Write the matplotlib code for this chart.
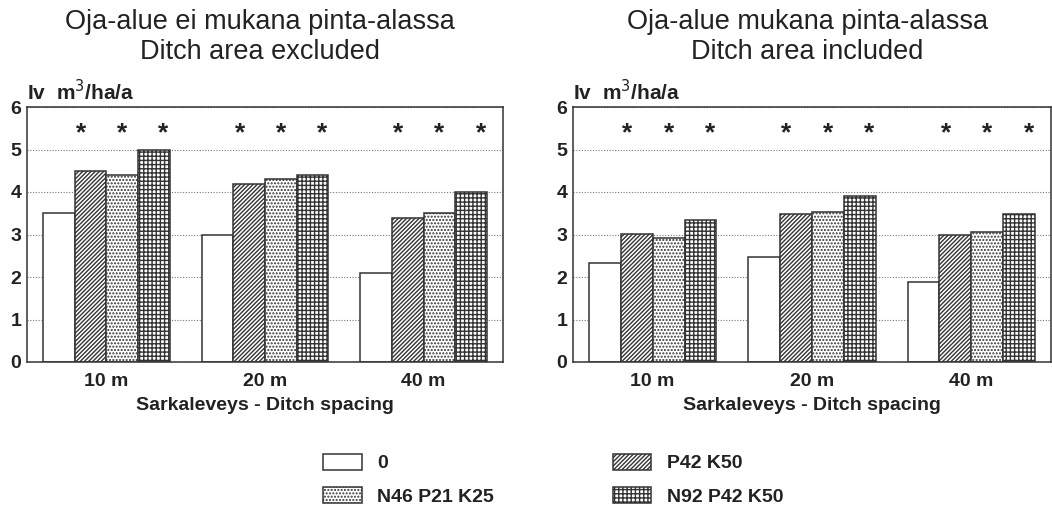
import numpy as np
import matplotlib
matplotlib.use("Agg")
import matplotlib.pyplot as plt
from matplotlib.patches import Patch

plt.rcParams['font.family'] = ['Liberation Sans', 'DejaVu Sans']
plt.rcParams['hatch.linewidth'] = 1.0
plt.rcParams['hatch.color'] = '#333333'

# data
groups = ['10 m', '20 m', '40 m']
series = ['0', 'P42 K50', 'N46 P21 K25', 'N92 P42 K50']
excluded = {
    '0':           [3.5, 3.0, 2.1],
    'P42 K50':     [4.5, 4.2, 3.4],
    'N46 P21 K25': [4.4, 4.3, 3.5],
    'N92 P42 K50': [5.0, 4.4, 4.0],
}
included = {
    '0':           [2.34, 2.48, 1.89],
    'P42 K50':     [3.02, 3.49, 3.0],
    'N46 P21 K25': [2.92, 3.53, 3.06],
    'N92 P42 K50': [3.35, 3.9, 3.48],
}
titles = ['Oja-alue ei mukana pinta-alassa\nDitch area excluded',
          'Oja-alue mukana pinta-alassa\nDitch area included']
star_y = 5.45

hatches = {'0': '', 'P42 K50': '////////', 'N46 P21 K25': '.....', 'N92 P42 K50': '++++'}
ink = '#222222'
edge = '#333333'

fig = plt.figure(figsize=(10.52, 5.12), dpi=100)
ax1 = fig.add_axes([27/1052, 1-362/512, 476/1052, 255/512])
ax2 = fig.add_axes([573/1052, 1-362/512, 478/1052, 255/512])

x = np.arange(len(groups))
w = 0.2
offs = [-0.3, -0.1, 0.1, 0.3]
star_offs = [-0.16, 0.1, 0.36]

for ax, data, title in [(ax1, excluded, titles[0]), (ax2, included, titles[1])]:
    for s, o in zip(series, offs):
        ax.bar(x + o, data[s], w, color='white', edgecolor=edge,
               hatch=hatches[s], linewidth=1.1, zorder=2)
    for g in x:
        for so in star_offs:
            ax.text(g + so, star_y - 0.08, '*', ha='center', va='center',
                    fontsize=19, fontweight='bold', color=ink)
    ax.set_xlim(-0.5, 2.5)
    ax.set_ylim(0, 6)
    ax.set_yticks(range(7))
    ax.set_xticks(x)
    ax.set_xticklabels(groups)
    ax.tick_params(axis='both', length=0, labelsize=14, colors=ink)
    for lbl in ax.get_xticklabels() + ax.get_yticklabels():
        lbl.set_fontweight('bold')
    ax.tick_params(axis='x', pad=8)
    ax.tick_params(axis='y', pad=4)
    ax.yaxis.grid(True, linestyle=(0, (1, 1.5)), color='#777777', linewidth=0.8)
    ax.set_axisbelow(True)
    for sp in ax.spines.values():
        sp.set_color(edge)
        sp.set_linewidth(1.1)
    ax.set_xlabel('Sarkaleveys - Ditch spacing', fontsize=14, fontweight='bold',
                  color=ink, labelpad=5)
    ax.text(0.0, 1.01, 'Iv  m$^3$/ha/a', transform=ax.transAxes, ha='left',
            va='bottom', fontsize=15, fontweight='bold', color=ink)
    ax.text(0.49, 1.164, title, transform=ax.transAxes, ha='center', va='bottom',
            fontsize=19.5, color=ink, linespacing=1.2)

order = ['0', 'N46 P21 K25', 'P42 K50', 'N92 P42 K50']
handles = [Patch(facecolor='white', edgecolor=edge, hatch=hatches[s], linewidth=1.1)
           for s in order]
fig.legend(handles, order, loc='upper left', bbox_to_anchor=(313/1052, 1-444/512),
           ncol=2, frameon=False, prop={'size': 14, 'weight': 'bold'},
           handlelength=2.0, handleheight=0.9, handletextpad=0.8,
           columnspacing=6.1, labelspacing=0.75, borderpad=0, labelcolor=ink)

fig.savefig('out.png', dpi=100)
